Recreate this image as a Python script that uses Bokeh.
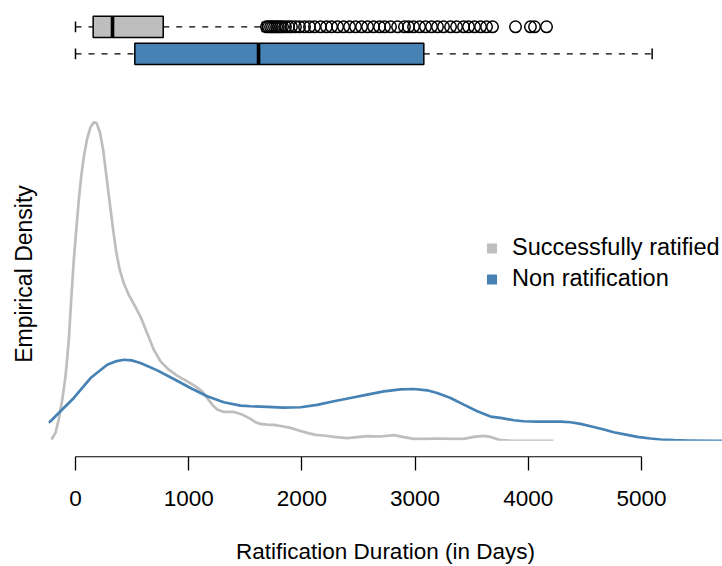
from bokeh.plotting import figure
from bokeh.models import (Range1d, LinearAxis, FixedTicker, Legend, LegendItem,
                          BoxAnnotation, ColumnDataSource)
from bokeh.layouts import column
from bokeh.embed import file_html
from bokeh.resources import INLINE

# ---------------- data ----------------
groups = ["Successfully ratified", "Non ratification"]
colors = ["#BEBEBE", "#4682B4"]

# kernel density estimates (density x 1e4)
succ_days = [-212, -177, -148, -117, -88, -59, -38, -15, 9, 29, 50, 73, 103, 133,
             162, 186, 215, 245, 274, 303, 333, 362, 391, 427, 471, 515, 574, 633,
             692, 751, 824, 898, 987, 1060, 1119, 1163, 1208, 1252, 1310, 1398,
             1473, 1546, 1590, 1634, 1693, 1752, 1826, 1899, 1973, 2047, 2120,
             2194, 2282, 2400, 2489, 2577, 2694, 2812, 2900, 2989, 3107, 3195,
             3313, 3430, 3519, 3607, 3666, 3754, 3869, 4223]
succ_density = [0.04, 0.24, 0.64, 1.24, 1.94, 3.04, 4.24, 5.44, 6.44, 7.24, 7.94,
                8.54, 9.09, 9.44, 9.58, 9.56, 9.29, 8.74, 7.94, 7.14, 6.34, 5.64,
                5.14, 4.74, 4.39, 4.12, 3.74, 3.24, 2.74, 2.39, 2.14, 1.96, 1.79,
                1.64, 1.49, 1.29, 1.09, 0.94, 0.87, 0.87, 0.79, 0.66, 0.56, 0.51,
                0.49, 0.48, 0.44, 0.39, 0.31, 0.24, 0.18, 0.16, 0.12, 0.08, 0.11,
                0.14, 0.13, 0.17, 0.11, 0.06, 0.06, 0.07, 0.06, 0.06, 0.12, 0.15,
                0.12, 0.02, 0.0, 0.0]

non_days = [-239, -221, -133, -15, 133, 280, 353, 427, 495, 574, 722, 868, 1016,
            1163, 1310, 1458, 1546, 1693, 1840, 1988, 2135, 2282, 2429, 2577, 2724,
            2871, 2989, 3107, 3195, 3313, 3430, 3549, 3666, 3754, 3872, 3960, 4079,
            4167, 4285, 4373, 4461, 4550, 4667, 4755, 4874, 4962, 5080, 5168, 5285,
            5404, 5639, 5800]
non_density = [0.55, 0.59, 0.89, 1.29, 1.89, 2.29, 2.39, 2.44, 2.42, 2.34, 2.12,
               1.86, 1.59, 1.34, 1.16, 1.06, 1.04, 1.02, 1.00, 1.01, 1.08, 1.19,
               1.29, 1.39, 1.49, 1.55, 1.56, 1.52, 1.44, 1.29, 1.09, 0.89, 0.73,
               0.69, 0.62, 0.59, 0.58, 0.58, 0.58, 0.56, 0.51, 0.44, 0.34, 0.26,
               0.18, 0.12, 0.07, 0.04, 0.02, 0.01, 0.0, 0.0]

# box plot statistics (days)
box_min = [0, 0]
box_q1 = [156, 524]
box_median = [327, 1617]
box_q3 = [775, 3077]
box_max = [1650, 5094]
succ_outliers = [1687, 1705, 1723, 1740, 1758, 1776, 1793, 1811, 1829, 1855, 1882,
                 1908, 1943, 1979, 2023, 2067, 2111, 2164, 2217, 2262, 2315, 2368,
                 2421, 2474, 2527, 2580, 2633, 2686, 2730, 2783, 2845, 2906, 2942,
                 2986, 3039, 3092, 3145, 3198, 3251, 3313, 3366, 3428, 3472, 3525,
                 3578, 3631, 3684, 3887, 4019, 4055, 4161]

x_ticks = [0, 1000, 2000, 3000, 4000, 5000]

# ---------------- styling ----------------
FONT = "Liberation Sans"
rows = [2, 1]
BOX_H = 0.79
CAP = 0.2

x_range = Range1d(-238.5, 5715.5)

# ---------------- box plots ----------------
pa = figure(width=722, height=80, x_range=x_range, y_range=Range1d(0.011, 2.974),
            x_axis_type=None, y_axis_type=None, toolbar_location=None,
            output_backend="svg", min_border_left=48, min_border_right=0,
            min_border_top=0, min_border_bottom=0, outline_line_color=None)

src = ColumnDataSource(dict(
    row=rows, lo=box_min, q1=box_q1, med=box_median, q3=box_q3, hi=box_max,
    color=colors,
    cap_lo=[r - CAP for r in rows], cap_hi=[r + CAP for r in rows],
    box_lo=[r - BOX_H / 2 for r in rows], box_hi=[r + BOX_H / 2 for r in rows],
))

pa.segment(x0="lo", y0="row", x1="q1", y1="row", source=src, line_color="black",
           line_width=1.2, line_dash="6 7")
pa.segment(x0="q3", y0="row", x1="hi", y1="row", source=src, line_color="black",
           line_width=1.2, line_dash="6 7")
pa.segment(x0="lo", y0="cap_lo", x1="lo", y1="cap_hi", source=src,
           line_color="black", line_width=1.5)
pa.segment(x0="hi", y0="cap_lo", x1="hi", y1="cap_hi", source=src,
           line_color="black", line_width=1.5)
pa.hbar(y="row", left="q1", right="q3", height=BOX_H, source=src,
        fill_color="color", line_color="black", line_width=1.5)
pa.segment(x0="med", y0="box_lo", x1="med", y1="box_hi", source=src,
           line_color="black", line_width=3.6)
pa.scatter(x=succ_outliers, y=[rows[0]] * len(succ_outliers), marker="circle",
           size=11.5, fill_alpha=0, line_color="black", line_width=1.5)

# ---------------- densities ----------------
pb = figure(width=722, height=486, x_range=x_range, y_range=Range1d(-0.471, 10.509),
            x_axis_type=None, y_axis_type=None, toolbar_location=None,
            output_backend="svg", min_border_left=48, min_border_right=0,
            min_border_top=11, min_border_bottom=109, outline_line_color=None)

pb.line(succ_days, succ_density, line_color=colors[0], line_width=2.7,
        line_join="round")
pb.line(non_days, non_density, line_color=colors[1], line_width=2.7,
        line_join="round")

# plot-region clipping at zero density (as in the original)
pb.add_layout(BoxAnnotation(top=0, fill_color="white", fill_alpha=1.0,
                            line_color=None))

xaxis = LinearAxis(ticker=FixedTicker(ticks=x_ticks), bounds=(0, 5000),
                   axis_label="Ratification Duration (in Days)",
                   axis_label_text_font=FONT, axis_label_text_font_size="22.5px",
                   axis_label_text_font_style="normal", axis_label_text_color="black",
                   axis_label_text_line_height=1.0,
                   axis_label_standoff=30,
                   major_label_text_font=FONT, major_label_text_font_size="22.5px",
                   major_label_text_color="black", major_label_standoff=20,
                   major_label_text_line_height=1.0,
                   axis_line_color="black", axis_line_width=1.3,
                   major_tick_line_color="black", major_tick_line_width=1.3,
                   major_tick_out=14, major_tick_in=0,
                   minor_tick_line_color=None)
pb.add_layout(xaxis, "below")

yaxis = LinearAxis(ticker=FixedTicker(ticks=[]), axis_label="Empirical Density",
                   axis_label_text_font=FONT, axis_label_text_font_size="23px",
                   axis_label_text_font_style="normal", axis_label_text_color="black",
                   axis_label_standoff=12, axis_line_color=None,
                   major_tick_line_color=None, minor_tick_line_color=None,
                   major_label_text_font_size="0px")
pb.add_layout(yaxis, "left")

nan = float("nan")
k1 = pb.scatter(x=[nan], y=[nan], marker="square", size=10, fill_color=colors[0],
                line_color=None)
k2 = pb.scatter(x=[nan], y=[nan], marker="square", size=10, fill_color=colors[1],
                line_color=None)
legend = Legend(items=[LegendItem(label=groups[0], renderers=[k1]),
                       LegendItem(label=groups[1], renderers=[k2])],
                location=(431, 164), glyph_width=25, glyph_height=26,
                label_standoff=8, padding=0, margin=0, spacing=4,
                border_line_color=None, background_fill_alpha=0,
                label_text_font=FONT, label_text_font_size="23.5px",
                label_text_color="black")
pb.add_layout(legend)

layout = column(pa, pb)
open("out.html", "w").write(file_html(layout, INLINE))
